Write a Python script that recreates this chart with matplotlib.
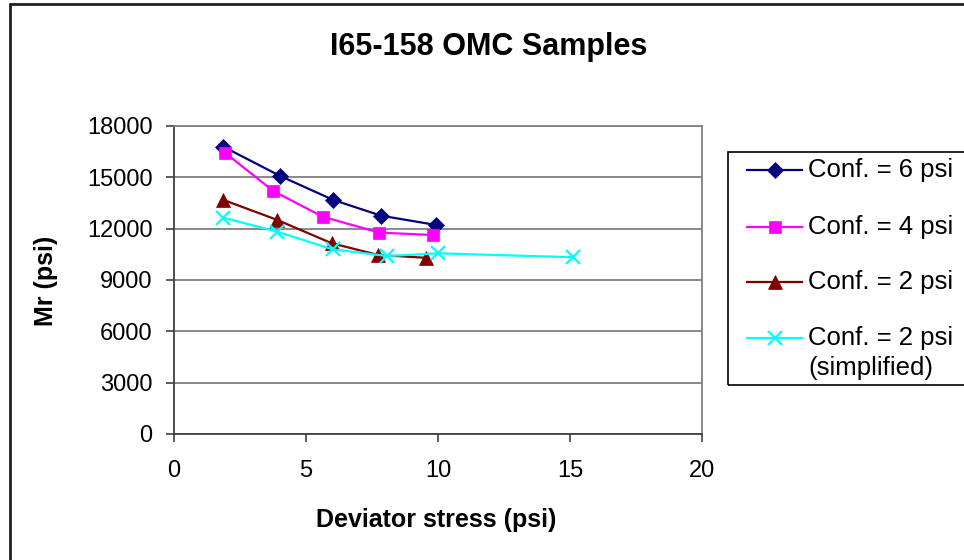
import matplotlib
matplotlib.use("Agg")
import matplotlib.pyplot as plt
from matplotlib.lines import Line2D
from matplotlib.patches import Rectangle

plt.rcParams['font.family'] = ['Liberation Sans', 'DejaVu Sans']

# data
x_conf6 = [1.87, 4.02, 6.03, 7.84, 9.91]
y_conf6 = [16790, 15080, 13680, 12760, 12220]
x_conf4 = [1.93, 3.76, 5.63, 7.77, 9.80]
y_conf4 = [16440, 14200, 12700, 11770, 11630]
x_conf2 = [1.87, 3.91, 5.97, 7.74, 9.53]
y_conf2 = [13680, 12510, 11150, 10460, 10300]
x_simp = [1.87, 3.91, 6.01, 8.08, 9.99, 15.13]
y_simp = [12640, 11820, 10790, 10400, 10560, 10330]

labels = ["Conf. = 6 psi", "Conf. = 4 psi", "Conf. = 2 psi", "Conf. = 2 psi\n(simplified)"]
colors = ["#000080", "#FF00FF", "#800000", "#00FFFF"]
markers = ["D", "s", "^", "x"]
msizes = [8.0, 8.5, 10.0, 10.5]

W, H = 964, 560


def fx(px):
    return px / W


def fy(py):
    return 1 - py / H


fig = plt.figure(figsize=(W / 100, H / 100), dpi=100)
ax = fig.add_axes([fx(174), fy(434), fx(702) - fx(174), fy(126) - fy(434)])

series = [(x_conf6, y_conf6), (x_conf4, y_conf4), (x_conf2, y_conf2), (x_simp, y_simp)]
for (xs, ys), c, m, ms in zip(series, colors, markers, msizes):
    ax.plot(xs, ys, color=c, lw=1.6, marker=m, markersize=ms,
            markeredgewidth=1.6 if m == "x" else 0.5, markeredgecolor=c, clip_on=False)

ax.set_xlim(0, 20)
ax.set_ylim(0, 18000)
ax.set_xticks(range(0, 21, 5))
ax.set_yticks(range(0, 18001, 3000))
ax.yaxis.grid(True, color="#808080", lw=1.3)
ax.set_axisbelow(True)
ax.tick_params(labelsize=17, length=5.5, width=1.2, color="#404040", pad=10)
ax.tick_params(axis="x", pad=13)
for side in ["left", "bottom"]:
    ax.spines[side].set_color("#404040")
    ax.spines[side].set_linewidth(1.3)
for side in ["top", "right"]:
    ax.spines[side].set_color("#808080")
    ax.spines[side].set_linewidth(1.3)

fig.text(fx(489), fy(55), "I65-158 OMC Samples", fontsize=22, fontweight="bold",
         ha="center", va="baseline")
fig.text(fx(436.5), fy(527), "Deviator stress (psi)", fontsize=18, fontweight="bold",
         ha="center", va="baseline")
fig.text(fx(46), fy(281), "Mr (psi)", fontsize=18, fontweight="bold",
         ha="center", va="center", rotation=90)

# legend box, drawn by hand so the handle sits on the first text line
fig.add_artist(Rectangle((fx(727.5), fy(385)), fx(990) - fx(727.5), fy(152) - fy(385),
                         transform=fig.transFigure, fill=False, ec="black", lw=1.2))
rows = [170, 227, 282, 338]
for label, c, m, ms, row in zip(labels, colors, markers, msizes, rows):
    fig.add_artist(Line2D([fx(747), fx(774.5), fx(802)], [fy(row)] * 3, transform=fig.transFigure,
                          color=c, lw=1.6, marker=m, markersize=ms, markevery=[1],
                          markeredgewidth=1.6 if m == "x" else 0.5, markeredgecolor=c))
    for k, line in enumerate(label.split("\n")):
        fig.text(fx(808), fy(row + 30 * k), line, fontsize=18.5, ha="left", va="center")

# outer chart border (cut off at right and bottom like the reference)
fig.add_artist(Rectangle((fx(9.5), -0.1), 1.2, fy(3.5) + 0.1, transform=fig.transFigure,
                         fill=False, ec="#202020", lw=2))

fig.savefig("out.png", dpi=100)
